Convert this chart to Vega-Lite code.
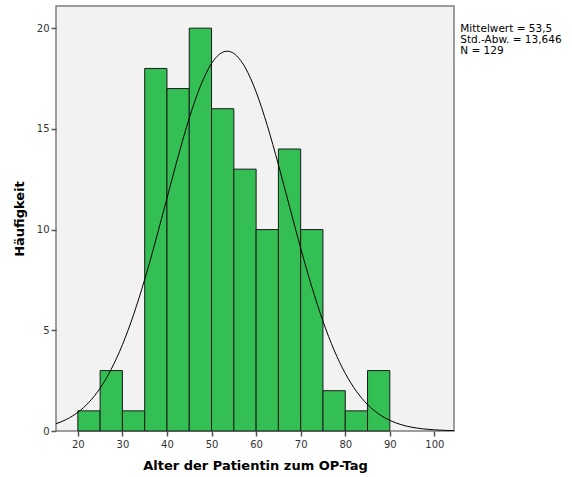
{
  "$schema": "https://vega.github.io/schema/vega-lite/v6.json",
  "width": 398,
  "height": 425,
  "autosize": {"type": "none"},
  "padding": {"left": 56, "top": 6, "right": 118, "bottom": 46},
  "background": "white",
  "config": {
    "view": {"fill": "#f2f2f2", "stroke": "#7f7f7f", "strokeWidth": 1.5},
    "font": "DejaVu Sans",
    "axis": {
      "grid": false,
      "domain": false,
      "tickColor": "#555555",
      "tickSize": 5,
      "tickWidth": 1.5,
      "labelColor": "#333333",
      "labelFontSize": 10,
      "labelFont": "DejaVu Sans",
      "titleFont": "DejaVu Sans",
      "titleFontSize": 13,
      "titleFontWeight": "bold",
      "titleColor": "#000000"
    }
  },
  "datasets": {
    "bars": [
      {"start": 20, "end": 25, "count": 1},
      {"start": 25, "end": 30, "count": 3},
      {"start": 30, "end": 35, "count": 1},
      {"start": 35, "end": 40, "count": 18},
      {"start": 40, "end": 45, "count": 17},
      {"start": 45, "end": 50, "count": 20},
      {"start": 50, "end": 55, "count": 16},
      {"start": 55, "end": 60, "count": 13},
      {"start": 60, "end": 65, "count": 10},
      {"start": 65, "end": 70, "count": 14},
      {"start": 70, "end": 75, "count": 10},
      {"start": 75, "end": 80, "count": 2},
      {"start": 80, "end": 85, "count": 1},
      {"start": 85, "end": 90, "count": 3}
    ],
    "curve": [
      {"x": 15, "y": 0.352}, {"x": 17.5, "y": 0.581}, {"x": 20, "y": 0.927},
      {"x": 22.5, "y": 1.428}, {"x": 25, "y": 2.129}, {"x": 27.5, "y": 3.070},
      {"x": 30, "y": 4.280}, {"x": 32.5, "y": 5.771}, {"x": 35, "y": 7.523},
      {"x": 37.5, "y": 9.483}, {"x": 40, "y": 11.560}, {"x": 42.5, "y": 13.626},
      {"x": 45, "y": 15.532}, {"x": 47.5, "y": 17.120}, {"x": 50, "y": 18.247},
      {"x": 52.5, "y": 18.806}, {"x": 53.5, "y": 18.857}, {"x": 55, "y": 18.743},
      {"x": 57.5, "y": 18.064}, {"x": 60, "y": 16.835}, {"x": 62.5, "y": 15.172},
      {"x": 65, "y": 13.221}, {"x": 67.5, "y": 11.141}, {"x": 70, "y": 9.078},
      {"x": 72.5, "y": 7.153}, {"x": 75, "y": 5.451}, {"x": 77.5, "y": 4.016},
      {"x": 80, "y": 2.861}, {"x": 82.5, "y": 1.972}, {"x": 85, "y": 1.313},
      {"x": 87.5, "y": 0.846}, {"x": 90, "y": 0.527}, {"x": 92.5, "y": 0.318},
      {"x": 95, "y": 0.185}, {"x": 97.5, "y": 0.104}, {"x": 100, "y": 0.057},
      {"x": 102.5, "y": 0.030}, {"x": 105, "y": 0.015}
    ],
    "stats": [
      {"x": 105.8, "y": 20.2, "label": "Mittelwert = 53,5\nStd.-Abw. = 13,646\nN = 129"}
    ]
  },
  "layer": [
    {
      "data": {"name": "bars"},
      "mark": {"type": "rect", "fill": "#34bf55", "stroke": "#1a1a1a", "strokeWidth": 1},
      "encoding": {
        "x": {
          "field": "start", "type": "quantitative",
          "scale": {"domain": [15.1, 104.4], "nice": false, "zero": false},
          "axis": {"values": [20, 30, 40, 50, 60, 70, 80, 90, 100], "labelPadding": 3, "titlePadding": 10},
          "title": "Alter der Patientin zum OP-Tag"
        },
        "x2": {"field": "end"},
        "y": {
          "field": "count", "type": "quantitative",
          "scale": {"domain": [0, 21.1], "nice": false},
          "axis": {"values": [0, 5, 10, 15, 20], "labelPadding": 2, "titlePadding": 10},
          "title": "Häufigkeit"
        },
        "y2": {"datum": 0}
      }
    },
    {
      "data": {"name": "curve"},
      "mark": {"type": "line", "color": "#000000", "strokeWidth": 1, "clip": true, "interpolate": "monotone"},
      "encoding": {
        "x": {"field": "x", "type": "quantitative"},
        "y": {"field": "y", "type": "quantitative"}
      }
    },
    {
      "data": {"name": "stats"},
      "mark": {"type": "text", "align": "left", "baseline": "top", "fontSize": 10.5, "lineHeight": 11, "lineBreak": "\n", "color": "#000000", "font": "DejaVu Sans"},
      "encoding": {
        "x": {"field": "x", "type": "quantitative"},
        "y": {"field": "y", "type": "quantitative"},
        "text": {"field": "label"}
      }
    }
  ]
}
